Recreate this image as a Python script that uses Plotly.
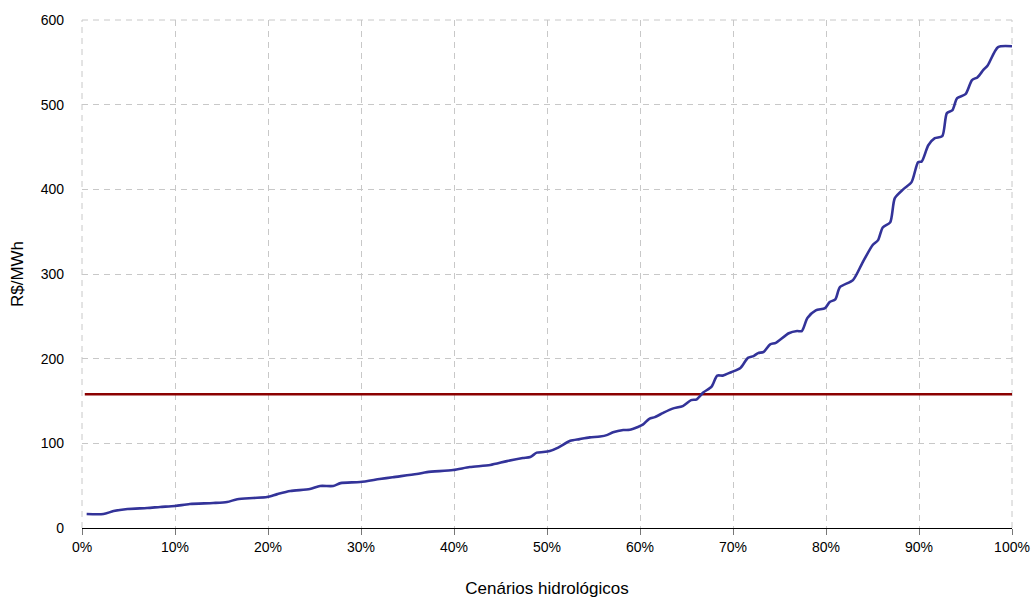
import plotly.graph_objects as go

# Cumulative share of hydrological scenarios (%), ordered by price
cenarios_pct = [
    0.5, 2.3, 3.4, 4.9, 7.0, 8.4, 10.0, 11.6, 14.1, 15.6, 16.7, 18.4, 19.9,
    21.0, 22.4, 24.5, 25.6, 27.0, 27.8, 29.9, 32.0, 33.4, 36.0, 37.1, 39.9,
    41.7, 43.9, 45.7, 47.4, 48.2, 48.9, 49.6, 50.3, 51.2, 52.5, 53.5, 54.6,
    55.7, 56.5, 57.1, 58.2, 58.9, 59.7, 60.3, 61.0, 61.6, 62.5, 63.5, 64.6,
    65.5, 66.1, 66.8, 67.7, 68.3, 68.9, 69.8, 70.8, 71.6, 72.2, 72.7, 73.3,
    74.0, 74.6, 76.0, 76.9, 77.4, 78.0, 78.9, 79.9, 80.4, 81.0, 81.5, 82.9,
    83.9, 85.0, 85.6, 86.1, 86.9, 87.4, 88.3, 89.2, 89.9, 90.3, 91.0, 91.7,
    92.5, 93.0, 93.6, 94.1, 95.0, 95.7, 96.3, 96.9, 97.4, 98.5, 100.0,
]

# Spot price for each scenario (R$/MWh)
preco = [
    16.5, 16.5, 20, 22.4, 23.6, 24.8, 26, 28.3, 29.5, 30.7, 34, 35.4, 36.6,
    40, 43.7, 46, 49.6, 49.6, 53, 54.3, 57.8, 60, 63.8, 66, 68.5,
    72, 74.4, 79, 82.6, 83.8, 89, 89.7, 91, 95, 103, 105, 107,
    108, 110, 113, 115.7, 116, 119, 122, 129, 131, 136, 141, 144,
    151, 152, 160, 167, 180, 180, 184, 189, 201, 203, 206.6, 208,
    217, 218.6, 230, 232.6, 232.6, 248, 257, 259.7, 267, 270, 284.5, 292.8,
    312.8, 334, 340, 355, 361, 389.6, 400, 408.5, 432, 433, 452, 460.4,
    462.8, 490, 493.5, 507.7, 512.4, 529, 532.5, 540.7, 546.6, 568, 569,
]

# Reference price level (R$/MWh)
preco_referencia = 158
ref_x = [0.3, 100.0]

x_ticks = list(range(0, 101, 10))
x_tick_labels = [f"{v}%" for v in x_ticks]
y_ticks = list(range(0, 601, 100))

GRID = "#c8c8c8"
DASH = "6px,5px"

fig = go.Figure()

fig.add_trace(go.Scatter(
    x=ref_x,
    y=[preco_referencia] * len(ref_x),
    mode="lines",
    line=dict(color="#8b0000", width=2.5),
    showlegend=False,
    hoverinfo="skip",
))

fig.add_trace(go.Scatter(
    x=cenarios_pct,
    y=preco,
    mode="lines",
    line=dict(color="#333399", width=2.6, shape="spline", smoothing=0.7),
    showlegend=False,
))

# Dashed frame on the left, right and top edges of the plot area
for x0, y0, x1, y1 in [(0, 0, 0, 1), (1, 0, 1, 1), (0, 1, 1, 1)]:
    fig.add_shape(
        type="line", xref="paper", yref="paper",
        x0=x0, y0=y0, x1=x1, y1=y1,
        line=dict(color=GRID, width=1, dash=DASH),
        layer="below",
    )

fig.update_layout(
    width=1034,
    height=599,
    margin=dict(l=82, r=22, t=20, b=71, autoexpand=False),
    paper_bgcolor="white",
    plot_bgcolor="white",
    font=dict(family="Liberation Sans, Arial, sans-serif", size=14, color="#000000"),
    xaxis=dict(
        range=[0, 100],
        tickvals=x_ticks,
        ticktext=x_tick_labels,
        automargin=False,
        showgrid=True,
        gridcolor=GRID,
        griddash=DASH,
        gridwidth=1,
        showline=True,
        linecolor="#000000",
        linewidth=1,
        ticks="outside",
        ticklen=6,
        tickcolor="#777777",
        zeroline=False,
        title=dict(text="Cenários hidrológicos", standoff=28),
        tickfont=dict(size=14),
    ),
    yaxis=dict(
        range=[0, 600],
        tickvals=y_ticks,
        automargin=False,
        showgrid=True,
        gridcolor=GRID,
        griddash=DASH,
        gridwidth=1,
        showline=False,
        zeroline=False,
        ticks="",
        ticklabelstandoff=17,
        title=dict(text="R$/MWh", standoff=12),
        tickfont=dict(size=14),
    ),
)

fig.write_html("out.html")
